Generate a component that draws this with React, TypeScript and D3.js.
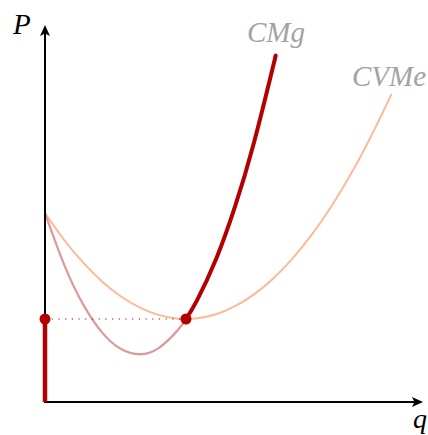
import React from 'react';
import * as d3 from 'd3';

// CVMe (costo variable medio)
const cvmeQ = [0, 0.5, 1, 1.5, 2, 2.5, 3, 3.5, 3.71, 4, 4.5, 5, 5.5, 6, 6.5, 7, 7.5, 8, 8.5, 9, 9.12];
const cvmeP = [4.97, 4.27, 3.673, 3.174, 2.777, 2.481, 2.286, 2.193, 2.184, 2.201, 2.31, 2.521, 2.833, 3.246, 3.76, 4.376, 5.093, 5.912, 6.832, 7.853, 8.11];

// CMg (costo marginal)
const cmgQ = [0, 0.5, 1, 1.5, 2, 2.5, 3, 3.5, 3.71, 4, 4.5, 5, 5.5, 6, 6.05];
const cmgP = [4.97, 3.623, 2.575, 1.832, 1.392, 1.257, 1.425, 1.898, 2.184, 2.674, 3.755, 5.139, 6.828, 8.82, 9.036];

// minimum of CVMe: where supply starts
const shutdownQ = 3.71;
const shutdownP = 2.184;

const axisMax = [10, 10]; // q, P
const axisLabels = ['q', 'P'];
const curveLabels = ['CMg', 'CVMe'];

const W = 428;
const H = 435;

const DARK = '#b30000';
const LIGHT_CMG = '#dc9c9c';
const CVME = '#ffb898';
const LABEL = '#a3a3a3';

export default function App() {
  const x = d3.scaleLinear().domain([0, axisMax[0]]).range([45, 425]);
  const y = d3.scaleLinear().domain([0, axisMax[1]]).range([402, 22]);

  const line = d3
    .line<[number, number]>()
    .x((d) => x(d[0]))
    .y((d) => y(d[1]))
    .curve(d3.curveNatural);

  const cvme = cvmeQ.map((q, i) => [q, cvmeP[i]] as [number, number]);
  const cmg = cmgQ.map((q, i) => [q, cmgP[i]] as [number, number]);
  const cmgLow = cmg.filter((d) => d[0] <= shutdownQ);
  const cmgHigh = cmg.filter((d) => d[0] >= shutdownQ);

  const x0 = x(0);
  const y0 = y(0);
  const xEnd = x.range()[1] - 2;
  const yEnd = y.range()[1] + 3;

  const font = '"Liberation Serif", "Times New Roman", serif';

  return (
    <svg
      width={W}
      height={H}
      viewBox={`0 0 ${W} ${H}`}
      style={{ position: 'fixed', left: 0, top: 0, background: '#fff' }}
    >
      {/* curves */}
      <path d={line(cvme) ?? ''} fill="none" stroke={CVME} strokeWidth={2} />
      <path d={line(cmgLow) ?? ''} fill="none" stroke={LIGHT_CMG} strokeWidth={2.3} />

      {/* axes */}
      <line x1={x0} y1={y0} x2={x0} y2={yEnd + 6} stroke="#000" strokeWidth={2} />
      <path
        d={`M${x0},${yEnd} L${x0 - 5},${yEnd + 11} L${x0},${yEnd + 8.5} L${x0 + 5},${yEnd + 11} Z`}
        fill="#000"
      />
      <line x1={x0 - 1} y1={y0} x2={xEnd - 6} y2={y0} stroke="#000" strokeWidth={2} />
      <path
        d={`M${xEnd},${y0} L${xEnd - 11},${y0 - 5} L${xEnd - 8.5},${y0} L${xEnd - 11},${y0 + 5} Z`}
        fill="#000"
      />

      {/* supply: vertical piece, dotted guide, CMg above min CVMe */}
      <line
        x1={x0}
        y1={y(shutdownP)}
        x2={x(shutdownQ)}
        y2={y(shutdownP)}
        stroke={DARK}
        strokeWidth={1.2}
        strokeDasharray="1.2 5.5"
      />
      <line x1={x0} y1={y0} x2={x0} y2={y(shutdownP)} stroke={DARK} strokeWidth={4.5} />
      <path d={line(cmgHigh) ?? ''} fill="none" stroke={DARK} strokeWidth={4} />
      <circle cx={x0} cy={y(shutdownP)} r={5.5} fill={DARK} />
      <circle cx={x(shutdownQ)} cy={y(shutdownP)} r={5.5} fill={DARK} />

      {/* labels */}
      <text x={13} y={34} fontFamily={font} fontStyle="italic" fontSize={29} fill="#000">
        {axisLabels[1]}
      </text>
      <text x={413} y={428} fontFamily={font} fontStyle="italic" fontSize={28} fill="#000">
        {axisLabels[0]}
      </text>
      <text x={247} y={42} fontFamily={font} fontStyle="italic" fontSize={29} fill={LABEL}>
        {curveLabels[0]}
      </text>
      <text x={352} y={86} fontFamily={font} fontStyle="italic" fontSize={29} fill={LABEL}>
        {curveLabels[1]}
      </text>
    </svg>
  );
}
